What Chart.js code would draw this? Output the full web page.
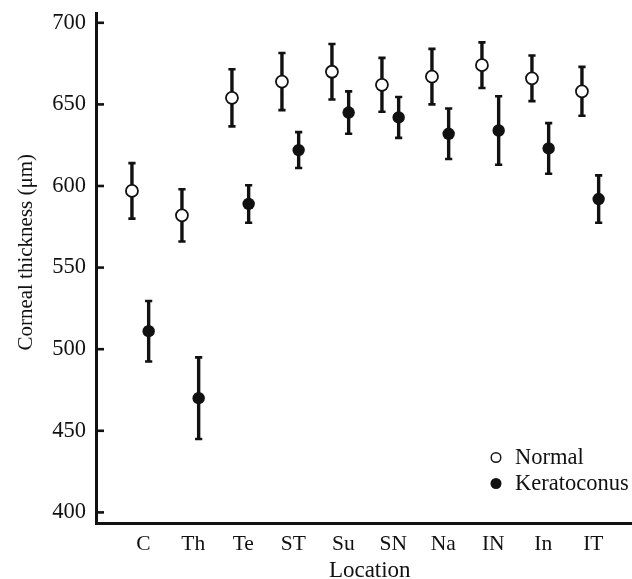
<!DOCTYPE html>
<html>
<head>
<meta charset="utf-8">
<script src="https://cdn.jsdelivr.net/npm/chart.js@4.4.1/dist/chart.umd.min.js"></script>
<style>
  html, body { margin: 0; padding: 0; background: #ffffff; overflow: hidden; }
  #wrap { width: 632px; height: 579px; position: relative; }
</style>
</head>
<body>
<div id="wrap"><canvas id="c"></canvas></div>
<script>
// ---- Data ----
const categories = ['C', 'Th', 'Te', 'ST', 'Su', 'SN', 'Na', 'IN', 'In', 'IT'];
const normalMean = [597, 582, 654, 664, 670, 662, 667, 674, 666, 658];
const normalSD   = [17, 16, 17.5, 17.5, 17, 16.5, 17, 14, 14, 15];
const keratoMean = [511, 470, 589, 622, 645, 642, 632, 634, 623, 592];
const keratoSD   = [18.5, 25, 11.5, 11, 13, 12.5, 15.5, 21, 15.5, 14.5];
const yTicks = [400, 450, 500, 550, 600, 650, 700];
const seriesLabels = ['Normal', 'Keratoconus'];

const GROUP_OFFSET = 0.167;
const FONT = "'Liberation Serif', 'DejaVu Serif', serif";
const INK = '#111111';

function toPoints(means, shift) {
  return means.map((v, i) => ({ x: i + shift, y: v }));
}

const errorBars = {
  id: 'errorBars',
  beforeDatasetsDraw(chart) {
    const ctx = chart.ctx;
    const yScale = chart.scales.y;
    ctx.save();
    ctx.strokeStyle = INK;
    chart.data.datasets.forEach((ds, d) => {
      const meta = chart.getDatasetMeta(d);
      meta.data.forEach((el, i) => {
        const m = ds.data[i].y, e = ds.errs[i];
        const x = el.x;
        const yTop = yScale.getPixelForValue(m + e);
        const yBot = yScale.getPixelForValue(m - e);
        ctx.lineWidth = 3.4;
        ctx.beginPath();
        ctx.moveTo(x, yTop); ctx.lineTo(x, yBot);
        ctx.stroke();
        ctx.lineWidth = 2.6;
        ctx.beginPath();
        ctx.moveTo(x - 3.6, yTop); ctx.lineTo(x + 3.6, yTop);
        ctx.moveTo(x - 3.6, yBot); ctx.lineTo(x + 3.6, yBot);
        ctx.stroke();
      });
    });
    ctx.restore();
  }
};

const innerTicks = {
  id: 'innerTicks',
  afterDraw(chart) {
    const ctx = chart.ctx;
    const y = chart.scales.y;
    const left = chart.chartArea.left;
    ctx.save();
    ctx.strokeStyle = INK;
    ctx.lineWidth = 2.6;
    y.ticks.forEach(t => {
      const py = y.getPixelForValue(t.value);
      ctx.beginPath();
      ctx.moveTo(left, py); ctx.lineTo(left + 8, py);
      ctx.stroke();
    });
    ctx.restore();
  }
};

const innerLegend = {
  id: 'innerLegend',
  afterDraw(chart) {
    const ctx = chart.ctx;
    const area = chart.chartArea;
    const mx = area.right - 136;
    const tx = area.right - 117;
    const rows = [464, 490];
    ctx.save();
    ctx.font = "22.5px " + FONT;
    ctx.fillStyle = INK;
    ctx.textBaseline = 'alphabetic';
    ctx.textAlign = 'left';
    chart.data.datasets.forEach((ds, d) => {
      const by = rows[d];
      const cy = by - 6.5;
      ctx.beginPath();
      ctx.arc(mx, cy, d === 0 ? 4.8 : 5.5, 0, Math.PI * 2);
      if (d === 0) {
        ctx.fillStyle = '#ffffff'; ctx.fill();
        ctx.lineWidth = 1.4; ctx.strokeStyle = INK; ctx.stroke();
      } else {
        ctx.fillStyle = INK; ctx.fill();
      }
      ctx.fillStyle = INK;
      ctx.fillText(ds.label, tx, by);
    });
    ctx.restore();
  }
};

new Chart(document.getElementById('c'), {
  type: 'scatter',
  data: {
    datasets: [
      {
        label: seriesLabels[0],
        data: toPoints(normalMean, -GROUP_OFFSET),
        errs: normalSD,
        pointRadius: 6,
        pointHoverRadius: 6,
        pointBorderWidth: 1.8,
        pointBackgroundColor: '#ffffff',
        pointBorderColor: INK,
        showLine: false
      },
      {
        label: seriesLabels[1],
        data: toPoints(keratoMean, GROUP_OFFSET),
        errs: keratoSD,
        pointRadius: 6.2,
        pointHoverRadius: 6.2,
        pointBorderWidth: 0,
        pointBackgroundColor: INK,
        pointBorderColor: INK,
        showLine: false
      }
    ]
  },
  options: {
    responsive: true,
    maintainAspectRatio: false,
    animation: false,
    events: [],
    layout: { autoPadding: false, padding: { top: 13, right: 0, bottom: 0, left: 0 } },
    plugins: {
      legend: { display: false },
      tooltip: { enabled: false }
    },
    scales: {
      x: {
        type: 'linear',
        min: -0.886,
        max: 9.834,
        grid: { display: false, drawTicks: false },
        border: { display: true, color: INK, width: 3 },
        afterBuildTicks(scale) {
          scale.ticks = categories.map((c, i) => ({ value: i }));
        },
        afterFit(scale) {
          scale.height = 56;
          scale.paddingLeft = 0;
          scale.paddingRight = 0;
        },
        ticks: {
          autoSkip: false,
          maxRotation: 0,
          padding: 8,
          labelOffset: 3,
          color: INK,
          font: { family: FONT, size: 21.5 },
          callback: (v) => categories[v] !== undefined ? categories[v] : ''
        },
        title: {
          display: true,
          text: '\u2002Location',
          color: INK,
          font: { family: FONT, size: 23, lineHeight: 0.7 },
          padding: { top: 0, bottom: 0 }
        }
      },
      y: {
        min: 393.5,
        max: 706,
        grid: { display: false, drawTicks: false },
        border: { display: true, color: INK, width: 3 },
        afterBuildTicks(scale) {
          scale.ticks = yTicks.map(v => ({ value: v }));
        },
        afterFit(scale) {
          scale.width = 96;
          scale.paddingTop = 0;
          scale.paddingBottom = 0;
        },
        ticks: {
          padding: 10,
          color: INK,
          font: { family: FONT, size: 22.5 }
        },
        title: {
          display: true,
          text: '\u2002\u2002\u2002Corneal thickness (μm)',
          color: INK,
          font: { family: FONT, size: 21 },
          padding: { top: 14, bottom: 0 }
        }
      }
    }
  },
  plugins: [errorBars, innerTicks, innerLegend]
});
</script>
</body>
</html>
